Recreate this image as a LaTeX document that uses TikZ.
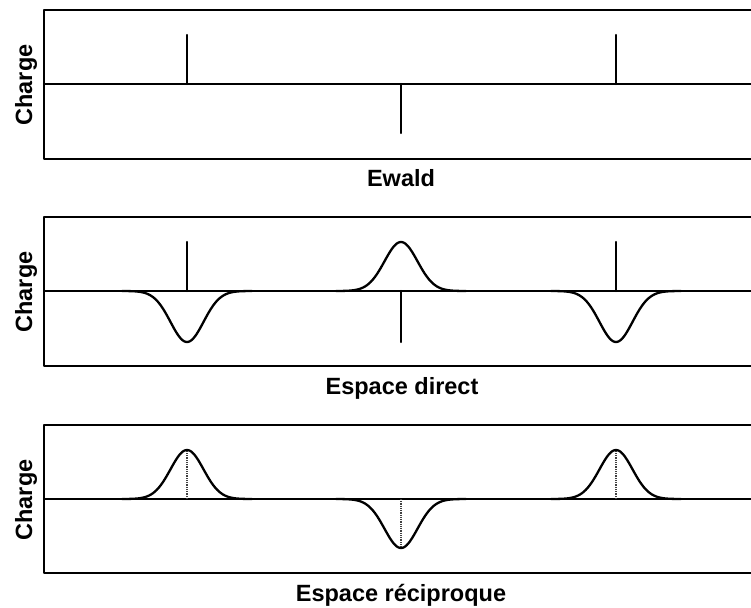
\documentclass[tikz,border=0pt]{standalone}
\usepackage{fontspec}
\setmainfont{Liberation Sans}
\begin{document}
\begin{tikzpicture}[x=1pt,y=-1pt, line join=round, line cap=round,
  frame/.style={line width=2.4pt},
  spike/.style={line width=2.3pt},
  gauss/.style={line width=2.3pt},
  guide/.style={line width=1.5pt, black!75, dash pattern=on 1pt off 0.8pt, line cap=butt},
  lbl/.style={font=\fontsize{23.5}{27}\selectfont\bfseries, inner sep=0pt, anchor=base}]
\useasboundingbox (0,0) rectangle (751,607);

% panel frames and axes
\foreach \t/\a/\b in {10/84/159, 217/291/366, 425/499/573}{
  \draw[frame] (752,\t) -- (44,\t) -- (44,\b) -- (752,\b);
  \draw[frame] (44,\a) -- (752,\a);
  \node[lbl, rotate=90] at (32,\a+1) {Charge};
}

% Panel 1 : Ewald
\draw[spike] (187,84) -- (187,35);
\draw[spike] (401,84) -- (401,133);
\draw[spike] (616,84) -- (616,35);
\node[lbl] (ewald) at (401,186) {Ewald};

% Panel 2 : direct space
\draw[spike] (187,291) -- (187,242);
\draw[spike] (401,291) -- (401,342);
\draw[spike] (616,291) -- (616,242);
\draw[gauss] plot[domain=-65:65, samples=91] ({187+\x},{291+51*exp(-((\x)/16.5)^2/2)});
\draw[gauss] plot[domain=-65:65, samples=91] ({401+\x},{291-49*exp(-((\x)/16.5)^2/2)});
\draw[gauss] plot[domain=-65:65, samples=91] ({616+\x},{291+51*exp(-((\x)/16.5)^2/2)});
\node[lbl] (direct) at (402,394) {Espace direct};

% Panel 3 : reciprocal space
\draw[guide] (187,499) -- (187,451);
\draw[guide] (401,499) -- (401,547);
\draw[guide] (616,499) -- (616,451);
\draw[gauss] plot[domain=-65:65, samples=91] ({187+\x},{499-49*exp(-((\x)/16.5)^2/2)});
\draw[gauss] plot[domain=-65:65, samples=91] ({401+\x},{499+49*exp(-((\x)/16.5)^2/2)});
\draw[gauss] plot[domain=-65:65, samples=91] ({616+\x},{499-49*exp(-((\x)/16.5)^2/2)});
\node[lbl] (recip) at (401,601) {Espace réciproque};
\end{tikzpicture}
\end{document}
